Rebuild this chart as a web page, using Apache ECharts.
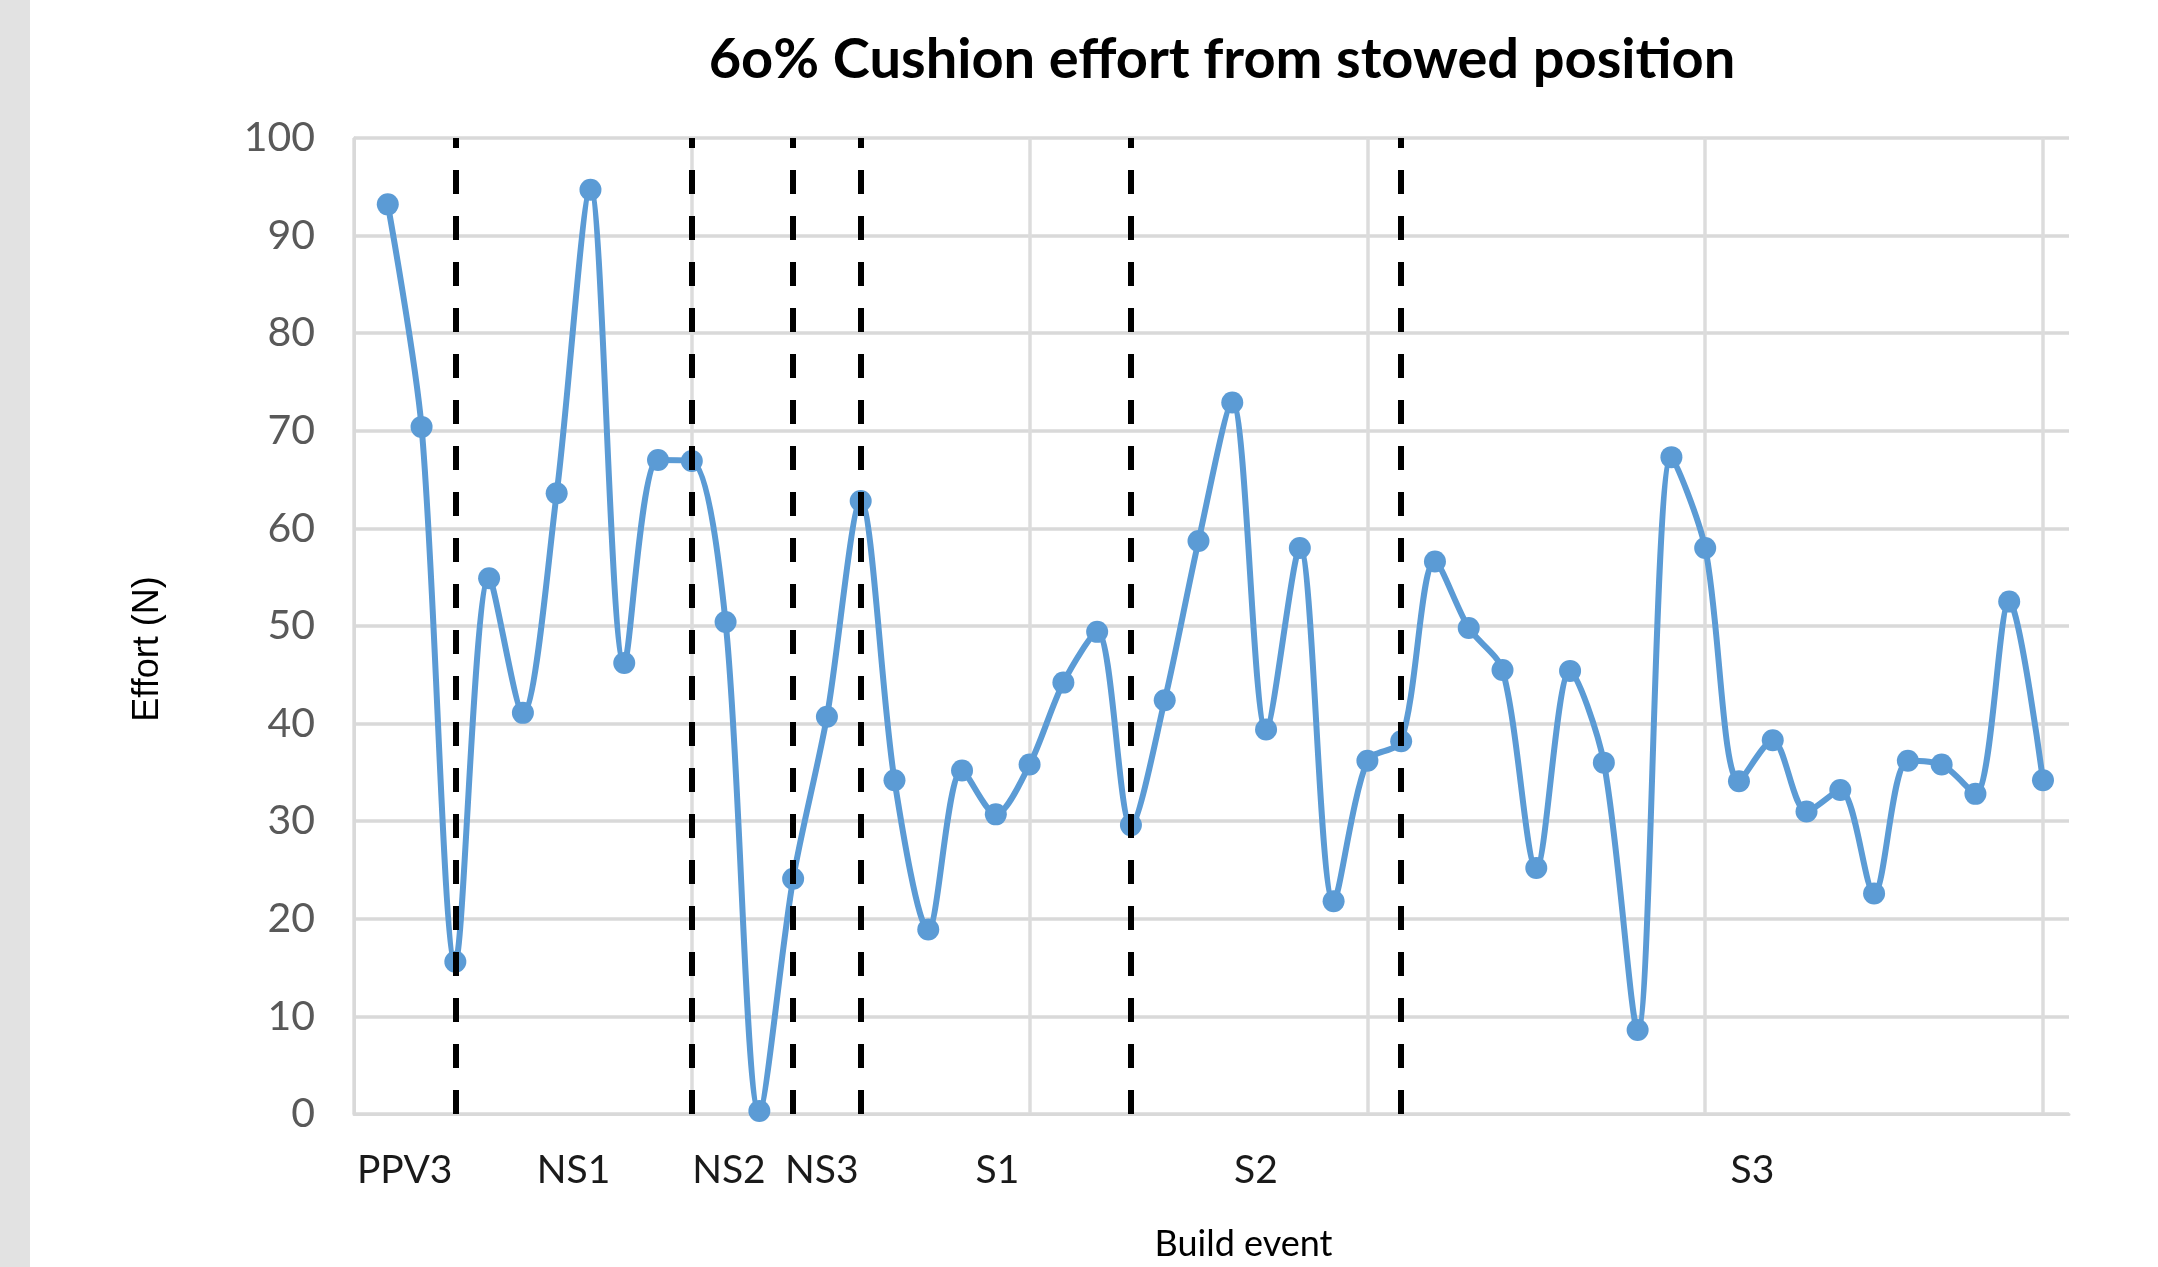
<!DOCTYPE html>
<html lang="en">
<head>
  <meta charset="UTF-8">
  <title>60% Cushion effort from stowed position</title>
  <script src="https://cdn.jsdelivr.net/npm/echarts@6/dist/echarts.min.js"></script>
  <style>
    html, body { margin: 0; padding: 0; background: #fff; }
    #chart { width: 2158px; height: 1267px; }
  </style>
</head>
<body>
  <div id="chart"></div>
  <script>
    // effort readings, one per build, in order
    const efforts = [
      93.2, 70.4, 15.6, 54.9, 41.1, 63.6, 94.7, 46.2, 67.0, 66.9,
      50.4, 0.3, 24.1, 40.7, 62.8, 34.2, 18.9, 35.2, 30.7, 35.8,
      44.2, 49.4, 29.6, 42.4, 58.7, 72.9, 39.4, 58.0, 21.8, 36.2,
      38.2, 56.6, 49.8, 45.5, 25.2, 45.4, 36.0, 8.6, 67.3, 58.0,
      34.1, 38.3, 31.0, 33.2, 22.6, 36.2, 35.8, 32.8, 52.5, 34.2
    ];
    // build event names and where their labels sit on the build index axis
    const events = ['PPV3', 'NS1', 'NS2', 'NS3', 'S1', 'S2', 'S3'];
    const eventLabelAt = [1.5, 6.5, 11.1, 13.85, 19.05, 26.7, 41.4];
    // last build of each event (dashed separators)
    const eventEnds = [3, 10, 13, 15, 23, 31];
    const xGridAt = [0, 10, 20, 30, 40, 50];
    const yTicks = [0, 10, 20, 30, 40, 50, 60, 70, 80, 90, 100];

    const chart = echarts.init(document.getElementById('chart'));

    const points = efforts.map((v, i) => [i + 1, v]);

    chart.setOption({
      animation: false,
      backgroundColor: '#ffffff',
      grid: { left: 354, right: 89, top: 138, bottom: 140, containLabel: false },
      graphic: [
        {
          type: 'rect',
          left: 0, top: 0,
          shape: { width: 30, height: 1267 },
          style: { fill: '#e2e2e2' },
          silent: true
        },
        {
          type: 'text',
          x: 1222, y: 60,
          style: {
            text: '6o% Cushion effort from stowed position',
            fontFamily: 'Lato',
            fontWeight: 'bold',
            fontSize: 56,
            fill: '#000000',
            textAlign: 'center',
            textVerticalAlign: 'middle'
          }
        }
      ],
      xAxis: {
        type: 'value',
        min: 0,
        max: 50.77,
        name: 'Build event',
        nameLocation: 'middle',
        nameGap: 112,
        nameTextStyle: {
          fontFamily: 'Lato', fontSize: 36, color: '#000000',
          padding: [0, 0, 0, 64]
        },
        axisLine: { show: true, lineStyle: { color: '#d9d9d9', width: 3 } },
        axisTick: { show: false, customValues: xGridAt },
        splitLine: { show: true, lineStyle: { color: '#dcdcdc', width: 3.5 } },
        axisLabel: {
          customValues: eventLabelAt,
          formatter: v => events[eventLabelAt.indexOf(v)] || '',
          fontFamily: 'Lato', fontSize: 39, color: '#1a1a1a',
          margin: 37
        }
      },
      yAxis: {
        type: 'value',
        min: 0,
        max: 100,
        interval: 10,
        name: 'Effort (N)',
        nameLocation: 'middle',
        nameGap: 188,
        nameRotate: 90,
        nameTextStyle: {
          fontFamily: 'Liberation Sans', fontSize: 36, color: '#000000',
          padding: [0, 46, 0, 0]
        },
        axisLine: { show: true, lineStyle: { color: '#d9d9d9', width: 3 } },
        axisTick: { show: false },
        splitLine: { show: true, lineStyle: { color: '#d9d9d9', width: 3.5 } },
        axisLabel: {
          formatter: v => (yTicks.indexOf(v) >= 0 ? String(v) : ''),
          fontFamily: 'Lato', fontSize: 41, color: '#595959',
          margin: 39
        }
      },
      series: [
        {
          type: 'line',
          data: points,
          smooth: 0.3,
          symbol: 'circle',
          symbolSize: 22,
          lineStyle: { color: '#5b9bd5', width: 6 },
          itemStyle: { color: '#5b9bd5' },
          markLine: {
            silent: true,
            symbol: ['none', 'none'],
            label: { show: false },
            lineStyle: { color: '#000000', width: 6, type: [24, 22] },
            data: eventEnds.map(x => ({ xAxis: x }))
          }
        }
      ]
    });
  </script>
</body>
</html>
